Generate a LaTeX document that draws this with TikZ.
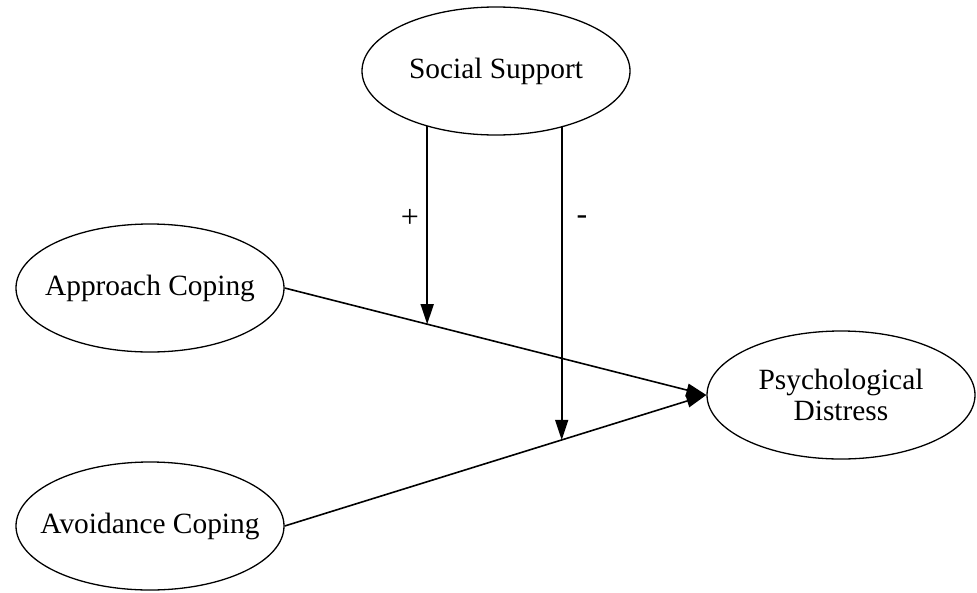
\documentclass[tikz,border=0pt]{standalone}
\usepackage{fontspec}
\setmainfont{Liberation Serif}
\usetikzlibrary{arrows.meta,calc,backgrounds,shapes.geometric}
\tikzset{
  construct/.style={ellipse, draw=black, line width=1.3pt, fill=white,
    minimum width=268pt, minimum height=128pt, inner xsep=-25pt, inner ysep=0pt,
    font=\fontsize{29.4}{31}\selectfont, align=center},
  conn/.style={draw=black, line width=1.6pt},
  headarrow/.style={-{Triangle[length=20pt,width=13pt]}},
  sign/.style={font=\fontsize{32}{34}\selectfont, inner sep=0pt}
}
\begin{document}
\begin{tikzpicture}[x=1pt,y=-1pt]
\useasboundingbox (0,0) rectangle (977,592);
\node[construct] (ss) at (496,71) {Social Support};
\node[construct] (ac) at (150,288) {Approach Coping};
\node[construct] (av) at (150,526) {Avoidance Coping};
\node[construct] (pd) at (841,395) {Psychological\\Distress};
\coordinate (m1) at ($(ac.east)!0.338!(pd.west)$);
\coordinate (m2) at ($(av.east)!0.657!(pd.west)$);
\begin{scope}[on background layer]
\draw[conn, headarrow] (ac.east) -- (pd.west);
\draw[conn, headarrow] (av.east) -- (pd.west);
\draw[conn, headarrow] (ss.center -| m1) -- (m1);
\draw[conn, headarrow] (ss.center -| m2) -- (m2);
\end{scope}
\node[sign] (plus) at (410,218) {+};
\node[sign] (minus) at (582,220) {-};
\end{tikzpicture}
\end{document}
